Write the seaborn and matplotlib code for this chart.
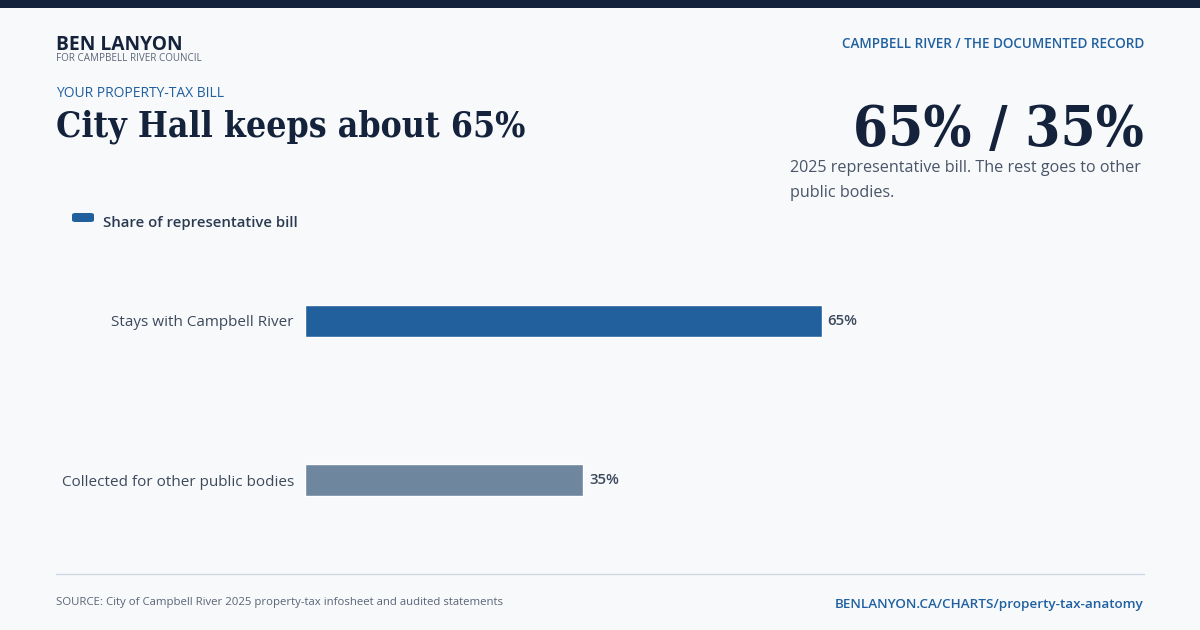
import matplotlib
matplotlib.use("Agg")
import matplotlib.pyplot as plt
import matplotlib.patches as mpatches
import seaborn as sns
import pandas as pd

# chart data
categories = ["Stays with Campbell River", "Collected for other public bodies"]
shares = [65, 35]
bar_colors = ["#21609c", "#6f879e"]
value_labels = ["65%", "35%"]

BG = "#f7f9fb"
NAVY = "#14233b"
BLUE = "#2060a0"
GREY = "#5a6577"
TEXT = "#3d4a5c"
SERIF = ["DejaVu Serif"]

sns.set_theme(style="white")
plt.rcParams["font.family"] = ["Open Sans", "DejaVu Sans"]

W, H = 1200, 630
fig = plt.figure(figsize=(12, 6.3), dpi=100, facecolor=BG)


def px(x, y):
    return x / W, 1 - y / H


# top band
fig.patches.append(mpatches.Rectangle((0, 1 - 8 / H), 1, 8 / H, transform=fig.transFigure,
                                      facecolor=NAVY, edgecolor="none"))

# header texts
fig.text(*px(56, 50), "BEN LANYON", fontsize=13.9, weight="bold", color=NAVY)
fig.text(*px(56, 61), "FOR CAMPBELL RIVER COUNCIL", fontsize=7.1, color=GREY)
fig.text(*px(56, 97), "YOUR PROPERTY-TAX BILL", fontsize=10, color=BLUE)
fig.text(*px(56, 136), "City Hall keeps about 65%", fontsize=25.5, weight="bold",
         color=NAVY, family=SERIF, stretch="condensed")
fig.text(*px(1144, 48), "CAMPBELL RIVER / THE DOCUMENTED RECORD", fontsize=9.75,
         weight="semibold", color=BLUE, ha="right")
fig.text(*px(1144, 146), "65% / 35%", fontsize=40.5, weight="bold", color=NAVY,
         ha="right", family=SERIF, stretch="condensed")
fig.text(*px(790, 172), "2025 representative bill. The rest goes to other", fontsize=11.6, color="#4a5568")
fig.text(*px(790, 197), "public bodies.", fontsize=11.6, color="#4a5568")

# legend
fig.patches.append(mpatches.FancyBboxPatch((72 / W, 1 - 222 / H), 22 / W, 9 / H,
                                           boxstyle="round,pad=0,rounding_size=0.003",
                                           transform=fig.transFigure, facecolor=bar_colors[0],
                                           edgecolor="none"))
fig.text(*px(103, 227), "Share of representative bill", fontsize=10.7, weight="semibold", color="#2b3a50")

# bar chart
ax = fig.add_axes([305 / W, 1 - 559.5 / H, 795 / W, 318 / H])
ax.set_facecolor(BG)
df = pd.DataFrame({"category": categories, "share": shares})
sns.barplot(data=df, x="share", y="category", hue="category", palette=bar_colors,
            saturation=1, orient="h", width=0.2, legend=False, ax=ax)
ax.set_xlim(0, 100)
ax.set_ylim(1.5, -0.5)
ax.set_xlabel("")
ax.set_ylabel("")
ax.set_xticks([])
ax.tick_params(axis="y", length=0, pad=8, labelsize=11, labelcolor=TEXT)
for s in ax.spines.values():
    s.set_visible(False)
for i, (v, lab) in enumerate(zip(shares, value_labels)):
    ax.text(v + 0.75, i, lab, va="center", ha="left", fontsize=10.8, weight="semibold", color=TEXT)

# footer
fig.lines.append(plt.Line2D([56 / W, 1144 / W], [1 - 574 / H] * 2, transform=fig.transFigure,
                            color="#d0d8e2", lw=1))
fig.text(*px(56, 605), "SOURCE: City of Campbell River 2025 property-tax infosheet and audited statements",
         fontsize=8.2, color=GREY)
fig.text(*px(1144, 608), "BENLANYON.CA/CHARTS/property-tax-anatomy", fontsize=9.7,
         weight="semibold", color=BLUE, ha="right")

fig.savefig("out.png", dpi=100, facecolor=BG)
